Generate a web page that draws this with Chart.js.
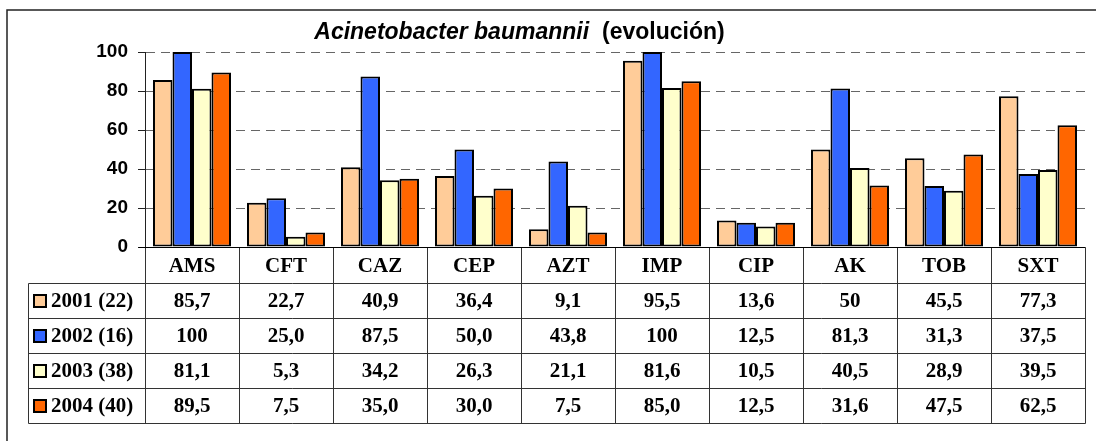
<!DOCTYPE html>
<html><head><meta charset="utf-8">
<script src="https://cdn.jsdelivr.net/npm/chart.js@4/dist/chart.umd.min.js"></script>
<style>html,body{margin:0;padding:0;background:#fff;}canvas{display:block;}</style>
</head><body>
<canvas id="c" width="1096" height="441"></canvas>
<script>
const categories = ['AMS','CFT','CAZ','CEP','AZT','IMP','CIP','AK','TOB','SXT'];
const seriesNames = ['2001 (22)','2002 (16)','2003 (38)','2004 (40)'];
const s2001 = ['85,7','22,7','40,9','36,4','9,1','95,5','13,6','50','45,5','77,3'];
const s2002 = ['100','25,0','87,5','50,0','43,8','100','12,5','81,3','31,3','37,5'];
const s2003 = ['81,1','5,3','34,2','26,3','21,1','81,6','10,5','40,5','28,9','39,5'];
const s2004 = ['89,5','7,5','35,0','30,0','7,5','85,0','12,5','31,6','47,5','62,5'];
const yTicks = [0,20,40,60,80,100];
const colors = ['#FFCC99','#3366FF','#FFFFCC','#FF6600'];
const titleItalic = 'Acinetobacter baumannii';
const titleRest = '(evolución)';

const seriesText = [s2001, s2002, s2003, s2004];
const toNum = s => parseFloat(s.replace(',', '.'));

const SANS = '"Liberation Sans", Arial, sans-serif';
const SERIF = '"Liberation Serif", "Times New Roman", serif';

const tablePlugin = {
  id: 'tableAndTitle',
  afterDraw(chart) {
    const ctx = chart.ctx, xs = chart.scales.x, area = chart.chartArea;
    const n = categories.length;
    const cw = (area.right - area.left) / n;
    const top = Math.round(area.bottom) + 0.5;
    const headB = 283.5, rowH = 35, legL = 28.5;
    const bottom = headB + rowH * 4;
    const L = Math.round(area.left) + 0.5, R = Math.round(area.right) + 0.5;
    ctx.save();
    ctx.strokeStyle = '#333'; ctx.lineWidth = 1; ctx.setLineDash([]);
    ctx.beginPath();
    for (let r = 0; r <= 4; r++) {
      const y = headB + r * rowH;
      ctx.moveTo(legL, y); ctx.lineTo(R, y);
    }
    ctx.moveTo(legL, headB); ctx.lineTo(legL, bottom);
    for (let i = 0; i <= n; i++) {
      const bx = Math.round(xs.getPixelForValue(i) - cw / 2) + 0.5;
      ctx.moveTo(bx, top); ctx.lineTo(bx, bottom);
    }
    ctx.stroke();
    ctx.strokeStyle = '#222'; ctx.lineWidth = 1;
    ctx.beginPath(); ctx.moveTo(L, Math.round(area.top)); ctx.lineTo(L, top); ctx.stroke();
    ctx.strokeStyle = '#000'; ctx.lineWidth = 1;
    ctx.beginPath(); ctx.moveTo(L - 7, top); ctx.lineTo(R, top); ctx.stroke();

    ctx.fillStyle = '#000';
    ctx.font = 'bold 21px ' + SERIF;
    ctx.textAlign = 'center'; ctx.textBaseline = 'middle';
    categories.forEach((c, i) => {
      ctx.fillText(c, xs.getPixelForValue(i), (top + headB) / 2 + 1);
    });
    seriesText.forEach((arr, r) => {
      const cy = headB + r * rowH + rowH / 2 + 1;
      arr.forEach((t, i) => ctx.fillText(t, xs.getPixelForValue(i), cy));
      ctx.fillStyle = colors[r];
      ctx.fillRect(34, cy - 7, 12, 12);
      ctx.strokeStyle = '#000'; ctx.lineWidth = 2;
      ctx.strokeRect(34, cy - 7, 12, 12);
      ctx.fillStyle = '#000';
      ctx.textAlign = 'left';
      ctx.fillText(seriesNames[r], 51, cy);
      ctx.textAlign = 'center';
    });

    ctx.textBaseline = 'alphabetic'; ctx.textAlign = 'left';
    const fI = 'italic bold 23px ' + SANS, fB = 'bold 23px ' + SANS;
    ctx.font = fI; const w1 = ctx.measureText(titleItalic).width;
    ctx.font = fB; const w2 = ctx.measureText(titleRest).width;
    const gap = 13;
    const tx = 519.5 - (w1 + gap + w2) / 2;
    ctx.font = fI; ctx.fillText(titleItalic, tx, 38.5);
    ctx.font = fB; ctx.fillText(titleRest, tx + w1 + gap, 38.5);

    ctx.strokeStyle = '#222'; ctx.lineWidth = 1.5;
    ctx.beginPath(); ctx.moveTo(7, 441); ctx.lineTo(7, 10); ctx.lineTo(1096, 10); ctx.stroke();
    ctx.restore();
  }
};

new Chart(document.getElementById('c'), {
  type: 'bar',
  data: {
    labels: categories,
    datasets: seriesText.map((arr, i) => ({
      label: seriesNames[i],
      data: arr.map(toNum),
      backgroundColor: colors[i],
      borderColor: '#000',
      borderWidth: 2,
      borderSkipped: false,
      barPercentage: 1.0,
      categoryPercentage: 0.83
    }))
  },
  options: {
    responsive: false,
    animation: false,
    devicePixelRatio: 1,
    layout: { padding: { left: 0, right: 11, top: 52, bottom: 194 } },
    plugins: { legend: { display: false }, title: { display: false }, tooltip: { enabled: false } },
    scales: {
      x: { display: false },
      y: {
        min: 0, max: 100,
        afterFit(scale) { scale.width = 145; },
        afterBuildTicks(scale) { scale.ticks = yTicks.map(v => ({ value: v })); },
        ticks: { font: { family: SANS, size: 19, weight: 'bold' }, color: '#000', padding: 10 },
        grid: {
          color: '#666', lineWidth: 1,
          drawTicks: true, tickLength: 7, tickColor: '#222', tickBorderDash: [], tickWidth: 1
        },
        border: { display: true, color: '#222', width: 1, dash: [9, 6] }
      }
    }
  },
  plugins: [tablePlugin]
});
</script>
</body></html>
